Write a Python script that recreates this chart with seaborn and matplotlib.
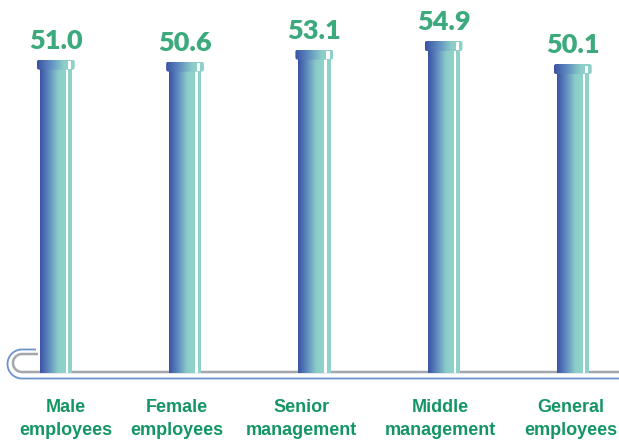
import matplotlib
matplotlib.use("Agg")
import matplotlib.pyplot as plt
import seaborn as sns
import pandas as pd
import numpy as np
from matplotlib.colors import LinearSegmentedColormap
from matplotlib.patches import FancyBboxPatch, Rectangle
from matplotlib.lines import Line2D
from matplotlib.transforms import ScaledTranslation

# ---- data ----
categories = ["Male\nemployees", "Female\nemployees", "Senior\nmanagement",
              "Middle\nmanagement", "General\nemployees"]
values = [51.0, 50.6, 53.1, 54.9, 50.1]
value_labels = ["51.0", "50.6", "53.1", "54.9", "50.1"]

# ---- layout / style ----
W, H = 619, 443
BASE, YTOP = -14.27, 63.44
XL = (-0.433, 4.356)
VAL_COLOR = "#3caa7c"
LAB_COLOR = "#149664"
TEAL = "#8dd1ca"
LABEL_DX = [10, -8, -13, -3, -2]   # px shifts of category labels
cmap = LinearSegmentedColormap.from_list(
    "tube", [(0.0, "#3a52a4"), (0.35, "#5f8cc0"), (0.7, "#8ccdc8"), (1.0, "#8fd2cb")])

sns.set_theme(style="white")
fig = plt.figure(figsize=(W / 100, H / 100), dpi=100)
fig.patch.set_facecolor("white")
ax = fig.add_axes([0, 70 / H, 1, 373 / H])
ax.set_facecolor("none")

df = pd.DataFrame({"cat": categories, "val": values})
sns.barplot(data=df, x="cat", y="val", width=0.25, color=TEAL, ax=ax,
            saturation=1, zorder=2)

ax.set_xlim(*XL)
ax.set_ylim(BASE, YTOP)
px_x = (XL[1] - XL[0]) / W
px_y = (YTOP - BASE) / 373

grad = np.linspace(0, 1, 256).reshape(1, -1)
for p, lab in zip(list(ax.patches), value_labels):
    x0, w, top = p.get_x(), p.get_width(), p.get_height()
    p.set_y(BASE)
    p.set_height(top - BASE)
    p.set_edgecolor("none")
    # white gap between body and stripe
    ax.add_patch(Rectangle((x0 + 0.80 * w, BASE), 0.08 * w, top - BASE,
                           facecolor="white", edgecolor="none", zorder=3))
    # gradient body
    body = Rectangle((x0, BASE), 0.80 * w, top - BASE, facecolor="none",
                     edgecolor="none", zorder=3)
    ax.add_patch(body)
    im = ax.imshow(grad, cmap=cmap, extent=(x0, x0 + 0.80 * w, BASE, top),
                   aspect="auto", interpolation="bicubic", zorder=3)
    im.set_clip_path(body)
    # cap
    cap_h = 10 * px_y
    cx0, cw = x0 - 0.09 * w, 1.17 * w
    cap = FancyBboxPatch((cx0, top - cap_h), cw, cap_h,
                         boxstyle="round,pad=0,rounding_size=%f" % (2.2 * px_x),
                         mutation_aspect=px_y / px_x,
                         facecolor="none", edgecolor="none", zorder=4)
    ax.add_patch(cap)
    im2 = ax.imshow(grad, cmap=cmap, extent=(cx0, cx0 + cw, top - cap_h, top),
                    aspect="auto", interpolation="bicubic", zorder=4)
    im2.set_clip_path(cap)
    ax.add_patch(Rectangle((x0 + 0.87 * w, top - 9 * px_y), 0.10 * w, 7.5 * px_y,
                           facecolor="white", edgecolor="none", zorder=5))
    ax.annotate(lab, (x0 + w / 2, top), xytext=(0, 8), textcoords="offset points",
                ha="center", va="baseline", fontsize=19.5, fontweight="heavy",
                color=VAL_COLOR, family=["Lato", "DejaVu Sans"], zorder=6)

ax.set_ylim(BASE, YTOP)
ax.set_xlim(*XL)
ax.set_xlabel("")
ax.set_ylabel("")
ax.set_yticks([])
for s in ax.spines.values():
    s.set_visible(False)
ax.tick_params(axis="x", length=0, pad=19)
for t, dx in zip(ax.get_xticklabels(), LABEL_DX):
    t.set_fontsize(13)
    t.set_fontweight("bold")
    t.set_color(LAB_COLOR)
    t.set_family(["Liberation Sans", "DejaVu Sans"])
    t.set_linespacing(1.4)
    t.set_transform(t.get_transform() + ScaledTranslation(dx / 100, 0, fig.dpi_scale_trans))

# ---- decorative base lines (figure pixel coords) ----
def fpts(xs, ys):
    return np.asarray(xs) / W, 1 - np.asarray(ys) / H

def clip_line(x_start, y_top, r, color, lw):
    cx, cy = 22, y_top + r
    th = np.linspace(np.pi / 2, 3 * np.pi / 2, 60)
    ax_ = cx + r * np.cos(th)
    ay_ = cy - r * np.sin(th)
    xs = np.concatenate([[x_start], ax_, [W]])
    ys = np.concatenate([[y_top], ay_, [y_top + 2 * r]])
    fx, fy = fpts(xs, ys)
    fig.add_artist(Line2D(fx, fy, color=color, lw=lw, zorder=-1,
                          solid_capstyle="butt"))

clip_line(36, 349.5, 14.5, "#6d93cc", 1.3)
clip_line(38, 354, 9, "#a3a6aa", 1.8)

fig.savefig("out.png", dpi=100, facecolor="white")
